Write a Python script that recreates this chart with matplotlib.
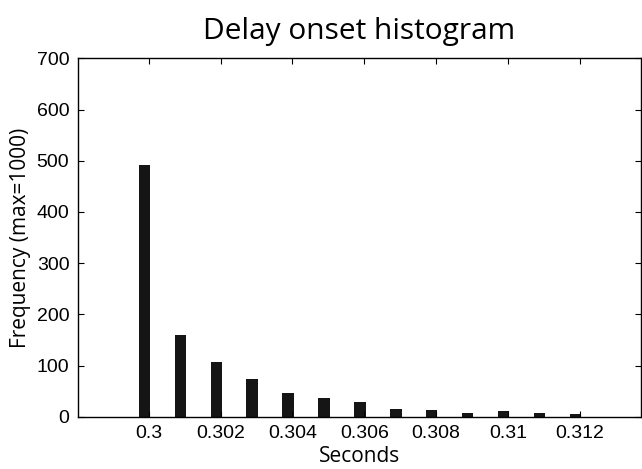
import numpy as np
import matplotlib.pyplot as plt

plt.rcParams['font.family'] = ['Liberation Sans', 'DejaVu Sans']

# histogram bin centres (s) and counts
bin_centers = [0.29988, 0.30088, 0.30188, 0.30288, 0.30388, 0.30488, 0.30588,
               0.30688, 0.30788, 0.30888, 0.30988, 0.31088, 0.31188]
counts = [492, 160, 107, 74, 46, 37, 28, 16, 13, 8, 12, 8, 6]
xticks = [0.300, 0.302, 0.304, 0.306, 0.308, 0.310, 0.312]
xtick_labels = ['0.3', '0.302', '0.304', '0.306', '0.308', '0.31', '0.312']
yticks = [0, 100, 200, 300, 400, 500, 600, 700]

fig = plt.figure(figsize=(6.42, 4.69), dpi=100)
ax = fig.add_axes([0.121, 0.1115, 0.877, 0.764])

ax.bar(bin_centers, counts, width=0.00032, color='#151515', edgecolor='none')

ax.set_xlim(0.29802, 0.3137)
ax.set_ylim(0, 700)
ax.set_xticks(xticks)
ax.set_xticklabels(xtick_labels)
ax.set_yticks(yticks)
ax.tick_params(direction='in', top=True, right=True, length=4, width=0.8,
               labelsize=14, pad=6)
for sp in ax.spines.values():
    sp.set_linewidth(1.0)

ax.set_xlabel('Seconds', family='Open Sans', fontsize=15, labelpad=3)
ax.set_ylabel('Frequency (max=1000)', family='Open Sans', fontsize=15)
ax.set_title('Delay onset histogram', family='Open Sans', fontsize=21.5, pad=14)

fig.savefig('out.png', dpi=100)
